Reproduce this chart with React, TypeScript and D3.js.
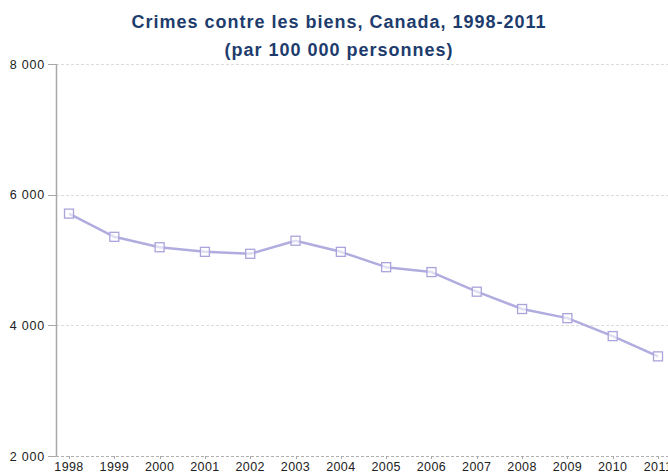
import React, { useEffect, useRef } from 'react';
import * as d3 from 'd3';

const years = ['1998', '1999', '2000', '2001', '2002', '2003', '2004', '2005', '2006', '2007', '2008', '2009', '2010', '2011'];
const rates = [5710, 5355, 5195, 5125, 5095, 5295, 5125, 4890, 4815, 4515, 4250, 4110, 3835, 3525];
const yTicks = [2000, 4000, 6000, 8000];
const titleLines = ['Crimes contre les biens, Canada, 1998-2011', '(par 100 000 personnes)'];

const W = 668;
const H = 476;

const App: React.FC = () => {
  const svgRef = useRef<SVGSVGElement>(null);

  useEffect(() => {
    document.body.style.margin = '0';
    if (!svgRef.current) return;
    const svg = d3.select(svgRef.current);
    svg.selectAll('*').remove();

    const x = d3.scalePoint<string>().domain(years).range([69, 658]);
    const y = d3.scaleLinear().domain([2000, 8000]).range([456, 64]);
    const axisX = 56;
    const font = 'Arial, "Liberation Sans", sans-serif';

    // title
    svg.append('g')
      .selectAll('text')
      .data(titleLines)
      .enter()
      .append('text')
      .attr('x', 339)
      .attr('y', (_, i) => 28 + i * 28)
      .attr('text-anchor', 'middle')
      .style('font-family', font)
      .style('font-size', '18px')
      .style('font-weight', 'bold')
      .style('letter-spacing', '1px')
      .style('fill', '#1d3c6d')
      .text(d => d);

    // gridlines
    svg.append('g')
      .selectAll('line')
      .data(yTicks)
      .enter()
      .append('line')
      .attr('x1', axisX)
      .attr('x2', W)
      .attr('y1', d => Math.round(y(d)) + 0.5)
      .attr('y2', d => Math.round(y(d)) + 0.5)
      .style('stroke', d => (d === 2000 ? '#b0b0b0' : '#dcdcdc'))
      .style('stroke-dasharray', '3,2');

    // y axis
    svg.append('line')
      .attr('x1', axisX + 0.5)
      .attr('x2', axisX + 0.5)
      .attr('y1', y(8000))
      .attr('y2', y(2000))
      .style('stroke', '#a8a8a8')
      .style('stroke-width', 1.5);

    svg.append('g')
      .selectAll('line')
      .data(yTicks)
      .enter()
      .append('line')
      .attr('x1', axisX - 8)
      .attr('x2', axisX)
      .attr('y1', d => Math.round(y(d)) + 0.5)
      .attr('y2', d => Math.round(y(d)) + 0.5)
      .style('stroke', '#a8a8a8');

    svg.append('g')
      .selectAll('text')
      .data(yTicks)
      .enter()
      .append('text')
      .attr('x', 45)
      .attr('y', d => y(d) + 4.5)
      .attr('text-anchor', 'end')
      .style('font-family', font)
      .style('font-size', '12.5px')
      .style('letter-spacing', '0.8px')
      .style('fill', '#222')
      .text(d => d3.format(',')(d).replace(',', ' '));

    // x ticks + labels
    svg.append('g')
      .selectAll('line')
      .data(years)
      .enter()
      .append('line')
      .attr('x1', d => Math.round(x(d)!) + 0.5)
      .attr('x2', d => Math.round(x(d)!) + 0.5)
      .attr('y1', y(2000))
      .attr('y2', y(2000) + 3)
      .style('stroke', '#a8a8a8');

    svg.append('g')
      .selectAll('text')
      .data(years)
      .enter()
      .append('text')
      .attr('x', d => x(d)!)
      .attr('y', 471)
      .attr('text-anchor', 'middle')
      .style('font-family', font)
      .style('font-size', '12.5px')
      .style('letter-spacing', '0.4px')
      .style('fill', '#222')
      .text(d => d);

    // series line
    const pts = years.map((yr, i) => ({ yr, v: rates[i] }));
    const line = d3.line<{ yr: string; v: number }>()
      .x(d => x(d.yr)!)
      .y(d => y(d.v));

    svg.append('path')
      .datum(pts)
      .attr('d', line)
      .style('fill', 'none')
      .style('stroke', '#b1acdf')
      .style('stroke-width', 2.5)
      .style('stroke-linejoin', 'round');

    svg.append('g')
      .selectAll('rect')
      .data(pts)
      .enter()
      .append('rect')
      .attr('x', d => x(d.yr)! - 4.5)
      .attr('y', d => y(d.v) - 4.5)
      .attr('width', 9)
      .attr('height', 9)
      .style('fill', '#ffffff')
      .style('fill-opacity', 0.6)
      .style('stroke', '#aaa4dc')
      .style('stroke-width', 1.3);
  }, []);

  return <svg ref={svgRef} width={W} height={H} style={{ display: 'block' }} />;
};

export default App;
